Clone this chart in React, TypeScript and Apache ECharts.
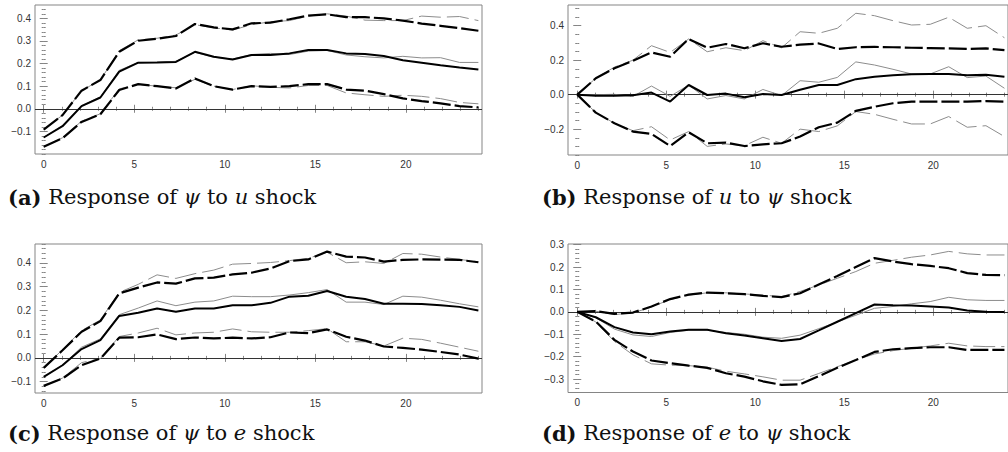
import React, { useEffect, useRef } from 'react';
import * as echarts from 'echarts';

// Horizon (x positions of the 24 response points)
const horizon = [0, 1.04, 2.09, 3.13, 4.17, 5.22, 6.26, 7.3, 8.35, 9.39, 10.43, 11.48, 12.52, 13.57, 14.61, 15.65, 16.7, 17.74, 18.78, 19.83, 20.87, 21.91, 22.96, 24.0];

const xMajorTicks = [0, 5, 10, 15, 20];

// (a) Response of psi to u shock
const aBlkUp = [-0.092, -0.028, 0.08, 0.127, 0.252, 0.301, 0.31, 0.322, 0.375, 0.36, 0.351, 0.378, 0.381, 0.396, 0.412, 0.418, 0.405, 0.405, 0.4, 0.39, 0.377, 0.367, 0.357, 0.345];
const aGryUp = [-0.092, -0.028, 0.08, 0.127, 0.257, 0.305, 0.312, 0.326, 0.372, 0.358, 0.348, 0.372, 0.385, 0.39, 0.41, 0.42, 0.41, 0.392, 0.39, 0.39, 0.41, 0.405, 0.408, 0.39];
const aBlkMid = [-0.127, -0.077, 0.012, 0.05, 0.164, 0.204, 0.205, 0.207, 0.252, 0.23, 0.218, 0.238, 0.238, 0.245, 0.26, 0.26, 0.245, 0.242, 0.233, 0.215, 0.204, 0.193, 0.183, 0.174];
const aGryMid = [-0.127, -0.075, 0.014, 0.052, 0.17, 0.205, 0.206, 0.21, 0.25, 0.228, 0.22, 0.24, 0.245, 0.24, 0.255, 0.258, 0.238, 0.23, 0.225, 0.232, 0.225, 0.226, 0.205, 0.205];
const aBlkLo = [-0.168, -0.13, -0.058, -0.024, 0.083, 0.109, 0.1, 0.09, 0.134, 0.1, 0.085, 0.1, 0.097, 0.1, 0.109, 0.109, 0.085, 0.08, 0.065, 0.046, 0.034, 0.024, 0.012, 0.006];
const aGryLo = [-0.168, -0.128, -0.055, -0.022, 0.088, 0.108, 0.1, 0.093, 0.13, 0.1, 0.085, 0.102, 0.095, 0.092, 0.103, 0.103, 0.07, 0.062, 0.055, 0.06, 0.055, 0.045, 0.028, 0.022];

// (b) Response of u to psi shock
const bBlkUp = [0, 0.095, 0.153, 0.197, 0.245, 0.22, 0.323, 0.272, 0.294, 0.269, 0.298, 0.278, 0.29, 0.297, 0.265, 0.275, 0.277, 0.275, 0.272, 0.27, 0.268, 0.265, 0.268, 0.258];
const bGryUp = [0, 0.095, 0.16, 0.2, 0.284, 0.245, 0.323, 0.249, 0.272, 0.255, 0.313, 0.272, 0.365, 0.356, 0.385, 0.472, 0.458, 0.429, 0.404, 0.408, 0.449, 0.385, 0.4, 0.33];
const bBlkMid = [0, -0.006, -0.006, -0.004, 0.012, -0.04, 0.056, -0.002, 0.006, -0.015, 0.004, -0.002, 0.028, 0.056, 0.056, 0.09, 0.104, 0.112, 0.118, 0.12, 0.12, 0.112, 0.116, 0.104];
const bGryMid = [0, 0, 0.002, -0.01, 0.05, -0.01, 0.056, -0.025, -0.005, -0.025, 0.03, -0.005, 0.081, 0.072, 0.1, 0.19, 0.172, 0.147, 0.12, 0.12, 0.162, 0.099, 0.108, 0.037];
const bBlkLo = [0, -0.104, -0.166, -0.214, -0.228, -0.298, -0.218, -0.282, -0.278, -0.298, -0.288, -0.282, -0.243, -0.189, -0.162, -0.094, -0.07, -0.05, -0.04, -0.04, -0.04, -0.04, -0.037, -0.041];
const bGryLo = [0, -0.104, -0.166, -0.209, -0.186, -0.263, -0.214, -0.3, -0.286, -0.296, -0.247, -0.282, -0.2, -0.214, -0.181, -0.098, -0.114, -0.143, -0.17, -0.17, -0.127, -0.189, -0.18, -0.243];

// (c) Response of psi to e shock
const cBlkUp = [-0.042, 0.032, 0.11, 0.155, 0.272, 0.296, 0.318, 0.313, 0.335, 0.338, 0.352, 0.359, 0.377, 0.408, 0.415, 0.448, 0.427, 0.423, 0.406, 0.413, 0.415, 0.414, 0.413, 0.403];
const cGryUp = [-0.042, 0.035, 0.115, 0.16, 0.276, 0.31, 0.35, 0.335, 0.355, 0.37, 0.395, 0.398, 0.402, 0.41, 0.42, 0.445, 0.401, 0.405, 0.398, 0.44, 0.437, 0.425, 0.415, 0.405];
const cBlkMid = [-0.08, -0.031, 0.037, 0.075, 0.177, 0.19, 0.208, 0.194, 0.208, 0.208, 0.222, 0.222, 0.232, 0.258, 0.262, 0.282, 0.258, 0.248, 0.228, 0.228, 0.227, 0.222, 0.215, 0.2];
const cGryMid = [-0.08, -0.03, 0.045, 0.08, 0.182, 0.21, 0.24, 0.22, 0.235, 0.24, 0.26, 0.258, 0.258, 0.265, 0.275, 0.288, 0.235, 0.235, 0.225, 0.26, 0.256, 0.243, 0.228, 0.215];
const cBlkLo = [-0.118, -0.087, -0.031, -0.003, 0.085, 0.087, 0.099, 0.079, 0.086, 0.082, 0.085, 0.082, 0.087, 0.107, 0.104, 0.12, 0.089, 0.073, 0.048, 0.042, 0.035, 0.025, 0.014, -0.003];
const cGryLo = [-0.118, -0.085, -0.02, -0.003, 0.09, 0.105, 0.125, 0.097, 0.105, 0.108, 0.122, 0.11, 0.108, 0.108, 0.115, 0.123, 0.068, 0.068, 0.05, 0.083, 0.078, 0.062, 0.045, 0.028];

// (d) Response of e to psi shock
const dBlkUp = [0, 0.003, -0.009, -0.003, 0.024, 0.057, 0.077, 0.086, 0.083, 0.079, 0.071, 0.066, 0.083, 0.122, 0.16, 0.2, 0.24, 0.225, 0.213, 0.205, 0.195, 0.173, 0.165, 0.164];
const dGryUp = [0, 0.003, -0.012, -0.005, 0.022, 0.055, 0.075, 0.085, 0.085, 0.08, 0.075, 0.068, 0.091, 0.12, 0.15, 0.18, 0.217, 0.23, 0.244, 0.254, 0.27, 0.259, 0.254, 0.254];
const dBlkMid = [0, -0.024, -0.068, -0.092, -0.1, -0.088, -0.08, -0.08, -0.095, -0.106, -0.118, -0.13, -0.121, -0.083, -0.044, -0.006, 0.033, 0.03, 0.028, 0.024, 0.019, 0.006, 0, -0.001];
const dGryMid = [0, -0.026, -0.077, -0.103, -0.11, -0.092, -0.082, -0.082, -0.092, -0.1, -0.113, -0.118, -0.104, -0.075, -0.045, -0.015, 0.016, 0.024, 0.036, 0.046, 0.065, 0.054, 0.051, 0.051];
const dBlkLo = [0, -0.043, -0.125, -0.177, -0.217, -0.229, -0.24, -0.25, -0.274, -0.289, -0.31, -0.326, -0.323, -0.287, -0.25, -0.215, -0.179, -0.167, -0.162, -0.158, -0.158, -0.17, -0.17, -0.17];
const dGryLo = [0, -0.045, -0.132, -0.192, -0.232, -0.238, -0.24, -0.247, -0.265, -0.277, -0.29, -0.305, -0.305, -0.275, -0.245, -0.215, -0.188, -0.173, -0.162, -0.152, -0.14, -0.152, -0.155, -0.155];

const aYTicks = [-0.1, 0, 0.1, 0.2, 0.3, 0.4];
const bYTicks = [-0.2, 0, 0.2, 0.4];
const cYTicks = [-0.1, 0, 0.1, 0.2, 0.3, 0.4];
const dYTicks = [-0.3, -0.2, -0.1, 0, 0.1, 0.2, 0.3];

const captions = [
  { label: '(a)', pre: ' Response of ', s1: 'ψ', mid: ' to ', s2: 'u', post: ' shock' },
  { label: '(b)', pre: ' Response of ', s1: 'u', mid: ' to ', s2: 'ψ', post: ' shock' },
  { label: '(c)', pre: ' Response of ', s1: 'ψ', mid: ' to ', s2: 'e', post: ' shock' },
  { label: '(d)', pre: ' Response of ', s1: 'e', mid: ' to ', s2: 'ψ', post: ' shock' },
];

// Layout (pixels)
const panels = [
  { grid: { left: 35, top: 5, width: 447, height: 149 }, x: [-0.48, 24.2], y: [-0.2, 0.459], yTicks: aYTicks, yMinor: 0.02, data: [aGryUp, aGryMid, aGryLo, aBlkUp, aBlkMid, aBlkLo], cap: { x: 8, y: 197 } },
  { grid: { left: 568, top: 5, width: 445, height: 150 }, x: [-0.52, 24.2], y: [-0.35, 0.52], yTicks: bYTicks, yMinor: 0.05, data: [bGryUp, bGryMid, bGryLo, bBlkUp, bBlkMid, bBlkLo], cap: { x: 542, y: 197 } },
  { grid: { left: 35, top: 244, width: 447, height: 149 }, x: [-0.48, 24.2], y: [-0.148, 0.48], yTicks: cYTicks, yMinor: 0.02, data: [cGryUp, cGryMid, cGryLo, cBlkUp, cBlkMid, cBlkLo], cap: { x: 8, y: 433 } },
  { grid: { left: 568, top: 244, width: 445, height: 148.5 }, x: [-0.52, 24.2], y: [-0.36, 0.303], yTicks: dYTicks, yMinor: 0.02, data: [dGryUp, dGryMid, dGryLo, dBlkUp, dBlkMid, dBlkLo], cap: { x: 542, y: 433 } },
];

function ticksIn(lo: number, hi: number, step: number): number[] {
  const out: number[] = [];
  const start = Math.ceil(lo / step - 1e-9);
  for (let k = start; k * step <= hi + 1e-9; k++) out.push(+(k * step).toFixed(6));
  return out;
}

const FRAME = '#858585';
const LABEL_FONT = 'Liberation Sans, Arial, sans-serif';
const CAP_FONT = 'DejaVu Serif';
const CAP_SIZE = 21;

function fmtY(v: number) {
  return v.toFixed(1).replace('-', '\u2212');
}

export default function App() {
  const ref = useRef<HTMLDivElement>(null);
  useEffect(() => {
    if (!ref.current) return;
    const chart = echarts.init(ref.current, undefined, { renderer: 'svg' });
    const grids: any[] = [];
    const xAxes: any[] = [];
    const yAxes: any[] = [];
    const series: any[] = [];
    const graphics: any[] = [];

    panels.forEach((p, g) => {
      grids.push({ ...p.grid, show: true, borderColor: FRAME, borderWidth: 1, backgroundColor: 'transparent', containLabel: false });
      const xMinor = ticksIn(p.x[0], p.x[1], 1);
      const yMinor = ticksIn(p.y[0], p.y[1], p.yMinor);
      const baseX = { gridIndex: g, type: 'value', min: p.x[0], max: p.x[1], axisLine: { show: false }, splitLine: { show: false } };
      const baseY = { gridIndex: g, type: 'value', min: p.y[0], max: p.y[1], axisLine: { show: false }, splitLine: { show: false } };
      const tick = (vals: number[], len: number) => ({ show: true, inside: true, length: len, customValues: vals, lineStyle: { color: FRAME, width: 1 } });
      const noLabel = { show: false };
      ['bottom', 'top'].forEach((pos) => {
        xAxes.push({
          ...baseX, position: pos, axisTick: tick(xMajorTicks, 4),
          axisLabel: pos === 'bottom'
            ? { show: true, customValues: xMajorTicks, fontSize: 10, color: '#333', fontFamily: LABEL_FONT, margin: 5, formatter: (v: number) => String(Math.round(v)) }
            : noLabel,
        });
        xAxes.push({ ...baseX, position: pos, axisTick: tick(xMinor, 2), axisLabel: noLabel });
      });
      ['left', 'right'].forEach((pos) => {
        yAxes.push({
          ...baseY, position: pos, axisTick: tick(p.yTicks, 4),
          axisLabel: pos === 'left'
            ? { show: true, customValues: p.yTicks, fontSize: 10, color: '#333', fontFamily: LABEL_FONT, margin: 4, formatter: fmtY }
            : noLabel,
        });
        yAxes.push({ ...baseY, position: pos, axisTick: tick(yMinor, 2), axisLabel: noLabel });
      });

      const styles = [
        { color: '#8c8c8c', width: 1, type: [22, 6] },
        { color: '#8c8c8c', width: 1, type: 'solid' },
        { color: '#8c8c8c', width: 1, type: [22, 6] },
        { color: '#000', width: 2.2, type: [18, 4] },
        { color: '#000', width: 2, type: 'solid' },
        { color: '#000', width: 2.2, type: [18, 4] },
      ];
      p.data.forEach((vals, k) => {
        const s: any = {
          type: 'line',
          xAxisIndex: g * 4,
          yAxisIndex: g * 4,
          data: vals.map((v, i) => [horizon[i], v]),
          showSymbol: false,
          symbol: 'none',
          silent: true,
          lineStyle: styles[k],
          z: k < 3 ? 3 : 4,
        };
        if (k === 0) {
          s.markLine = {
            silent: true,
            symbol: ['none', 'none'],
            label: { show: false },
            lineStyle: { color: '#333', width: 1, type: 'solid' },
            data: [{ yAxis: 0 }],
            z: 2,
          };
        }
        series.push(s);
      });

      const c = captions[g];
      graphics.push({
        type: 'text',
        x: p.cap.x,
        y: p.cap.y,
        style: {
          text: `{b|${c.label}}{r|${c.pre}}{i|${c.s1}}{r|${c.mid}}{i|${c.s2}}{r|${c.post}}`,
          verticalAlign: 'middle',
          align: 'left',
          fill: '#111',
          rich: {
            b: { fontFamily: CAP_FONT, fontWeight: 'bold', fontSize: CAP_SIZE, fill: '#111' },
            r: { fontFamily: CAP_FONT, fontSize: CAP_SIZE, fill: '#111' },
            i: { fontFamily: CAP_FONT, fontStyle: 'italic', fontSize: CAP_SIZE, fill: '#111' },
          },
        },
      });
    });

    chart.setOption({
      animation: false,
      backgroundColor: '#fff',
      grid: grids,
      xAxis: xAxes,
      yAxis: yAxes,
      series,
      graphic: graphics,
    });
    return () => chart.dispose();
  }, []);
  return <div ref={ref} style={{ position: 'absolute', left: 0, top: 0, width: 1008, height: 452, background: '#fff' }} />;
}
